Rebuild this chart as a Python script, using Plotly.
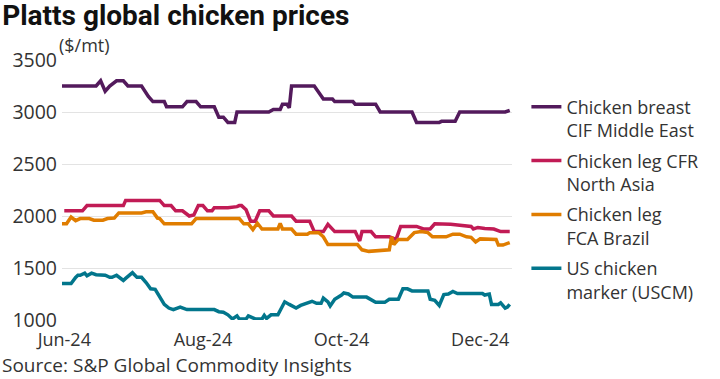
import plotly.graph_objects as go

# ---------------- data ----------------
breast_dates = ["2024-05-31","2024-06-15","2024-06-17","2024-06-19","2024-06-21","2024-06-24","2024-06-27","2024-06-29",
    "2024-07-05","2024-07-08","2024-07-10","2024-07-15","2024-07-16","2024-07-23","2024-07-25","2024-07-29","2024-07-31",
    "2024-08-06","2024-08-08","2024-08-10","2024-08-12","2024-08-15","2024-08-16","2024-08-30","2024-09-01","2024-09-04",
    "2024-09-05","2024-09-07","2024-09-08","2024-09-09","2024-09-19","2024-09-23","2024-09-27","2024-09-28","2024-10-06",
    "2024-10-07","2024-10-16","2024-10-18","2024-11-01","2024-11-03","2024-11-13","2024-11-14","2024-11-20","2024-11-22",
    "2024-12-12","2024-12-14"]
breast_vals = [3250,3250,3300,3200,3250,3300,3300,3250,
    3250,3150,3100,3100,3050,3050,3100,3100,3050,
    3050,2950,2950,2900,2900,3000,3000,3025,3025,
    3075,3075,3040,3250,3250,3125,3125,3100,3100,
    3075,3075,3000,3000,2900,2900,2910,2910,3000,
    3000,3015]

leg_asia_dates = ["2024-06-01","2024-06-09","2024-06-11","2024-06-27","2024-06-28","2024-07-13","2024-07-15","2024-07-18",
    "2024-07-20","2024-07-23","2024-07-26","2024-07-28","2024-07-30","2024-08-01","2024-08-03","2024-08-05","2024-08-06",
    "2024-08-12","2024-08-16","2024-08-17","2024-08-18","2024-08-20","2024-08-22","2024-08-24","2024-08-26","2024-08-30",
    "2024-09-01","2024-09-09","2024-09-11","2024-09-17","2024-09-19","2024-09-23","2024-09-25","2024-09-28","2024-10-07",
    "2024-10-09","2024-10-10","2024-10-14","2024-10-16","2024-10-22","2024-10-25","2024-10-27","2024-11-03","2024-11-06",
    "2024-11-09","2024-11-11","2024-11-18","2024-11-27","2024-11-28","2024-11-30","2024-12-03","2024-12-07","2024-12-10",
    "2024-12-14"]
leg_asia_vals = [2050,2050,2100,2100,2150,2150,2100,2100,
    2050,2050,2000,2010,2100,2100,2050,2050,2080,
    2080,2090,2100,2100,2060,1950,1950,2050,2050,
    2000,2000,1950,1950,1850,1850,1920,1850,1850,
    1760,1850,1850,1800,1800,1775,1900,1900,1875,
    1875,1925,1920,1900,1875,1890,1880,1875,1850,
    1850]

leg_brazil_dates = ["2024-05-31","2024-06-02","2024-06-04","2024-06-06","2024-06-08","2024-06-12","2024-06-14","2024-06-18",
    "2024-06-20","2024-06-23","2024-06-25","2024-07-05","2024-07-07","2024-07-10","2024-07-12","2024-07-13","2024-07-15",
    "2024-07-27","2024-07-29","2024-08-17","2024-08-19","2024-08-21","2024-08-23","2024-08-25","2024-08-27","2024-09-03",
    "2024-09-04","2024-09-05","2024-09-09","2024-09-11","2024-09-16","2024-09-17","2024-09-21","2024-09-23","2024-09-25",
    "2024-10-08","2024-10-10","2024-10-13","2024-10-22","2024-10-23","2024-10-24","2024-10-26","2024-10-30","2024-11-02",
    "2024-11-05","2024-11-08","2024-11-10","2024-11-16","2024-11-19","2024-11-22","2024-11-25","2024-11-27","2024-11-29",
    "2024-12-01","2024-12-08","2024-12-09","2024-12-11","2024-12-13","2024-12-14"]
leg_brazil_vals = [1925,1925,1990,1955,1975,1975,1960,1960,
    1975,1980,2030,2030,2040,2040,1980,1975,1925,
    1925,1975,1975,1925,1925,1870,1930,1875,1875,
    1930,1875,1875,1825,1825,1840,1840,1800,1725,
    1725,1675,1660,1675,1800,1725,1775,1775,1840,
    1850,1840,1800,1800,1825,1825,1800,1795,1750,
    1780,1775,1720,1720,1740,1745]

uscm_dates = ["2024-05-31","2024-06-04","2024-06-06","2024-06-07","2024-06-08","2024-06-10","2024-06-11","2024-06-13",
    "2024-06-15","2024-06-19","2024-06-21","2024-06-22","2024-06-24","2024-06-25","2024-06-27","2024-06-28","2024-07-01",
    "2024-07-03","2024-07-05","2024-07-07","2024-07-09","2024-07-11","2024-07-13","2024-07-15","2024-07-17","2024-07-19",
    "2024-07-22","2024-07-25","2024-08-06","2024-08-08","2024-08-10","2024-08-12","2024-08-14","2024-08-16","2024-08-17",
    "2024-08-20","2024-08-21","2024-08-22","2024-08-24","2024-08-27","2024-08-28","2024-08-29","2024-08-31","2024-09-03",
    "2024-09-06","2024-09-08","2024-09-09","2024-09-11","2024-09-13","2024-09-15","2024-09-16","2024-09-18","2024-09-20",
    "2024-09-22","2024-09-23","2024-09-25","2024-09-26","2024-09-28","2024-10-01","2024-10-02","2024-10-04","2024-10-06",
    "2024-10-12","2024-10-14","2024-10-16","2024-10-20","2024-10-22","2024-10-26","2024-10-28","2024-10-30","2024-11-01",
    "2024-11-08","2024-11-09","2024-11-11","2024-11-13","2024-11-15","2024-11-17","2024-11-19","2024-11-21","2024-12-02",
    "2024-12-03","2024-12-05","2024-12-06","2024-12-09","2024-12-10","2024-12-12","2024-12-13","2024-12-14"]
uscm_vals = [1350,1350,1410,1430,1430,1450,1425,1450,
    1435,1430,1410,1410,1430,1410,1380,1400,1455,
    1410,1410,1360,1300,1295,1225,1150,1115,1100,
    1125,1100,1100,1080,1075,1050,1010,1040,1010,
    1010,1040,1030,1010,1010,1045,1015,1050,1050,
    1175,1150,1140,1115,1140,1155,1165,1180,1160,
    1160,1210,1175,1135,1200,1240,1260,1250,1220,
    1220,1195,1170,1170,1200,1200,1300,1300,1280,
    1280,1200,1190,1140,1245,1250,1275,1255,1255,
    1240,1250,1150,1150,1165,1115,1125,1150]

series_names = ["Chicken breast<br>CIF Middle East", "Chicken leg CFR<br>North Asia",
                "Chicken leg<br>FCA Brazil", "US chicken<br>marker (USCM)"]
series_colors = ["#531a5c", "#c11b55", "#e07d00", "#02768c"]
tick_dates = ["2024-06-01", "2024-08-01", "2024-10-01", "2024-12-01"]
tick_labels = ["Jun-24", "Aug-24", "Oct-24", "Dec-24"]
y_ticks = [1000, 1500, 2000, 2500, 3000, 3500]

FONT = "Open Sans"
TFONT = "Roboto"
TXT = "#333333"

fig = go.Figure()
all_series = [(breast_dates, breast_vals), (leg_asia_dates, leg_asia_vals),
              (leg_brazil_dates, leg_brazil_vals), (uscm_dates, uscm_vals)]
for i, ((d, v), name, col) in enumerate(zip(all_series, series_names, series_colors)):
    fig.add_trace(go.Scatter(x=d, y=v, mode="lines", name=name,
                             line=dict(color=col, width=3.5),
                             legendgroup=f"g{i}"))

fig.update_layout(
    width=720, height=379,
    margin=dict(l=62, r=208, t=60, b=59, autoexpand=False),
    paper_bgcolor="white", plot_bgcolor="white",
    font=dict(family=FONT, size=17, color=TXT),
    title=dict(text="<b>Platts global chicken prices</b>", x=0.003, xref="container", xanchor="left",
               y=0.96, yref="container", yanchor="middle",
               font=dict(family=TFONT, size=28, color="#111111")),
    showlegend=True,
    legend=dict(x=1.032, xanchor="left", y=0.89, yanchor="top", valign="top",
                tracegroupgap=4, font=dict(family=FONT, size=18, color=TXT),
                bgcolor="rgba(0,0,0,0)"),
    xaxis=dict(type="date", range=["2024-05-31", "2024-12-15"], tickvals=tick_dates, ticktext=tick_labels,
               showgrid=False, zeroline=False, showline=False, ticks="", automargin=False,
               ticklabelstandoff=7,
               tickfont=dict(family=FONT, size=18, color=TXT)),
    yaxis=dict(range=[1000, 3500], tickvals=y_ticks, showgrid=True, gridcolor="#e3e3e3", gridwidth=1,
               zeroline=False, showline=False, ticks="", automargin=False, ticklabelstandoff=4,
               tickfont=dict(family=FONT, size=19.5, color=TXT)),
    annotations=[
        dict(text="($/mt)", xref="paper", yref="paper", x=0, y=1.0, xanchor="left", yanchor="bottom",
             xshift=-5, yshift=1, showarrow=False, font=dict(family=FONT, size=18, color=TXT)),
        dict(text="Source: S&P Global Commodity Insights", xref="paper", yref="paper", x=0, y=0,
             xanchor="left", yanchor="middle", xshift=-62, yshift=-45, showarrow=False,
             font=dict(family=FONT, size=19, color=TXT)),
    ],
)

fig.write_html("out.html", config={"displayModeBar": False},
               post_script="document.body.style.margin='0';document.body.style.overflow='hidden';")
